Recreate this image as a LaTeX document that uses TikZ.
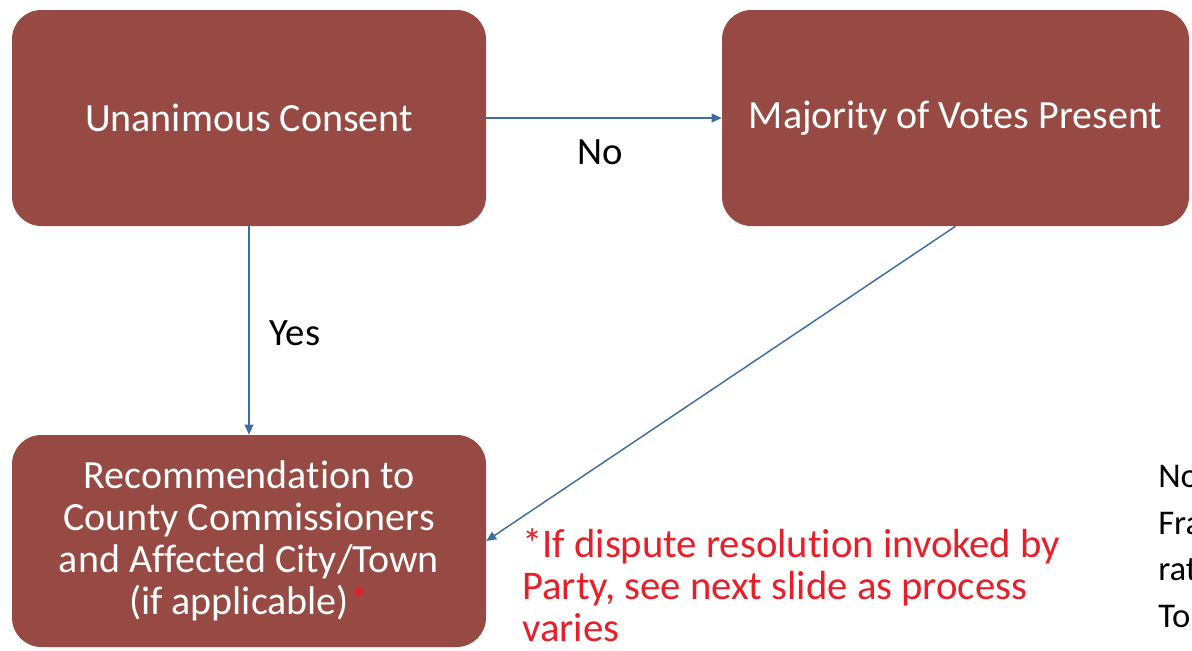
\documentclass[tikz,border=0pt]{standalone}
\usepackage{fontspec}
\setmainfont{Carlito}[Ligatures=NoCommon]
\usetikzlibrary{arrows.meta}
\definecolor{boxfill}{RGB}{151,74,67}
\definecolor{linkblue}{RGB}{62,110,160}
\definecolor{notered}{RGB}{232,30,40}
\tikzset{
  flowbox/.style={draw=none, fill=boxfill, rounded corners=22pt, text=white, align=center,
    font=\fontsize{30}{31.5}\selectfont, inner sep=0pt},
  link/.style={draw=linkblue, line width=1.1pt, -{Triangle[length=7.5pt,width=6.5pt]}},
  lbl/.style={font=\fontsize{29}{31.5}\selectfont, text=black, inner sep=0pt},
  rednote/.style={font=\fontsize{30.5}{31.5}\selectfont, text=notered, align=left, inner sep=0pt},
  sidenote/.style={font=\fontsize{26}{35}\selectfont, text=black, align=left, inner sep=0pt}
}
\begin{document}
\begin{tikzpicture}[x=0.75pt,y=-0.75pt]
\clip (0,0) rectangle (1192,650);
\fill[white] (0,0) rectangle (1192,650);
\node[flowbox, minimum width=355.5pt, minimum height=162pt] (A) at (249,118) {Unanimous Consent};
\node[flowbox, minimum width=350.25pt, minimum height=162pt] (B) at (955.5,118) {Majority of Votes Present};
\node[flowbox, minimum width=355.5pt, minimum height=159pt] (C) at (249,541)
  {Recommendation to\\County Commissioners\\and Affected City/Town\\(if applicable)\textcolor{notered}{*}};
\draw[link] (A.east) -- (B.west);
\draw[link] (A.south) -- (C.north);
\draw[link] (B.south) -- (C.east);
\node[lbl] (no) at (600,152) {No};
\node[lbl] (yes) at (295,333) {Yes};
\node[rednote, anchor=north west] (note) at (522,528)
  {*If dispute resolution invoked by\\Party, see next slide as process\\varies};
\node[sidenote, anchor=north west] (side) at (1158,465) {No\\Fra\\rat\\To};
\end{tikzpicture}
\end{document}
